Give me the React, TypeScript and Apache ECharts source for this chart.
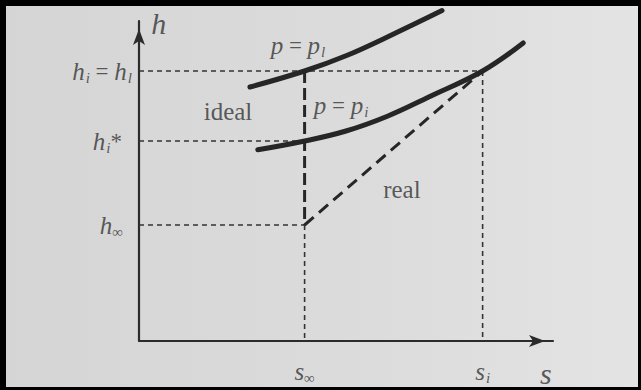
import { useEffect, useRef } from "react";
import * as echarts from "echarts";

// State points of the h–s diagram (arbitrary units)
const S_INF = 4.0;
const S_I = 8.3;
const H_L = 6.75; // h_i = h_l
const H_I_STAR = 5.0;
const H_INF = 2.9;

// Isobar p = p_l
const isobarLS = [2.68, 4.0, 5.0, 6.0, 7.32];
const isobarLH = [6.35, 6.75, 7.13, 7.6, 8.26];
// Isobar p = p_i
const isobarIS = [2.87, 4.0, 5.0, 6.0, 7.0, 8.3, 9.28];
const isobarIH = [4.78, 5.0, 5.25, 5.62, 6.1, 6.75, 7.45];

// Labels on the h axis
const hTickValues = [H_L, H_I_STAR, H_INF];
const hTickLabels = [
  "{it|h}{sub|i}{op| = }{it|h}{sub|l}",
  "{it|h}{sub|i}{op|*}",
  "{it|h}{subinf|∞}",
];
const hTickGaps = [7, 17, 16];

// Labels on the s axis
const sTickValues = [S_INF, S_I];
const sTickLabels = ["{it|s}{subinf|∞}", "{it|s}{sub|i}"];

// Free text: [s, h, text]
const freeTexts: [number, number, string][] = [
  [2.15, 5.75, "{rm|ideal}"],
  [6.35, 3.78, "{rm|real}"],
  [3.84, 7.38, "{it|p}{op| = }{it|p}{sub|l}"],
  [4.88, 5.9, "{it|p}{op| = }{it|p}{sub|i}"],
  [0.48, 7.93, "{big|h}"],
  [9.83, -0.8, "{big|s}"],
];

const SERIF = "Liberation Serif";
const INK = "#262626";
const TEXT = "#343434";

const rich = {
  it: { fontFamily: SERIF, fontStyle: "italic", fontSize: 25, color: TEXT, lineHeight: 28 },
  op: { fontFamily: SERIF, fontSize: 23, color: TEXT, lineHeight: 28 },
  rm: { fontFamily: SERIF, fontSize: 25, color: TEXT, lineHeight: 28 },
  big: { fontFamily: SERIF, fontStyle: "italic", fontSize: 30, color: TEXT, lineHeight: 30 },
  sub: {
    fontFamily: SERIF,
    fontStyle: "italic",
    fontSize: 15,
    color: TEXT,
    verticalAlign: "bottom",
    lineHeight: 14,
    padding: [11, 0, 0, 1],
  },
  subinf: {
    fontFamily: SERIF,
    fontSize: 15,
    color: TEXT,
    verticalAlign: "bottom",
    lineHeight: 14,
    padding: [11, 0, 0, 0],
  },
};

const zip = (xs: number[], ys: number[]) => xs.map((x, i) => [x, ys[i]]);

// Thin dashed guide lines
const guides: number[][][] = [
  [[0, H_L], [S_I, H_L]],
  [[0, H_I_STAR], [S_INF, H_I_STAR]],
  [[0, H_INF], [S_INF, H_INF]],
  [[S_INF, H_INF], [S_INF, 0]],
  [[S_I, H_L], [S_I, 0]],
];

const textLabel = (formatter: string, extra: object) => ({
  show: true,
  fontFamily: SERIF,
  color: TEXT,
  formatter,
  rich,
  ...extra,
});

export default function App() {
  const ref = useRef<HTMLDivElement>(null);

  useEffect(() => {
    if (!ref.current) return;
    const chart = echarts.init(ref.current, undefined, { renderer: "svg" });

    const curveStyle = { color: INK, width: 5, cap: "round" };

    const series: any[] = [
      ...guides.map((seg) => ({
        type: "line",
        data: seg,
        symbol: "none",
        silent: true,
        lineStyle: { color: "#333", width: 1.6, type: [5, 4] },
        z: 2,
      })),
      {
        type: "line",
        name: "p_l",
        data: zip(isobarLS, isobarLH),
        smooth: 0.4,
        symbol: "none",
        clip: false,
        lineStyle: curveStyle,
        z: 4,
      },
      {
        type: "line",
        name: "p_i",
        data: zip(isobarIS, isobarIH),
        smooth: 0.4,
        symbol: "none",
        clip: false,
        lineStyle: curveStyle,
        z: 4,
      },
      {
        type: "line",
        name: "ideal",
        data: [
          [S_INF, H_L],
          [S_INF, H_INF],
        ],
        symbol: "none",
        lineStyle: { color: INK, width: 3, type: [12, 5] },
        z: 3,
      },
      {
        type: "line",
        name: "real",
        data: [
          [S_INF, H_INF],
          [S_I, H_L],
        ],
        symbol: "none",
        lineStyle: { color: INK, width: 3, type: [12, 7] },
        z: 3,
      },
      {
        type: "scatter",
        symbolSize: 0,
        silent: true,
        clip: false,
        data: [
          ...hTickValues.map((v, i) => ({
            value: [0, v],
            label: textLabel(hTickLabels[i], { position: "left", distance: hTickGaps[i] }),
          })),
          ...sTickValues.map((v, i) => ({
            value: [v, 0],
            label: textLabel(sTickLabels[i], { position: "bottom", distance: 16 }),
          })),
          ...freeTexts.map(([x, y, t]) => ({
            value: [x, y],
            label: textLabel(t, { position: "inside" }),
          })),
        ],
        z: 5,
      },
    ];

    const axisLine = (symbolSize: number[]) => ({
      show: true,
      symbol: ["none", "arrow"],
      symbolSize,
      symbolOffset: [0, -8],
      lineStyle: { color: "#2b2b2b", width: 2.2 },
    });

    chart.setOption({
      animation: false,
      backgroundColor: "transparent",
      graphic: [
        {
          type: "rect",
          z: -10,
          silent: true,
          shape: { x: 0, y: 0, width: 641, height: 390 },
          style: {
            fill: new echarts.graphic.LinearGradient(0, 0, 1, 0, [
              { offset: 0, color: "#d5d5d5" },
              { offset: 0.6, color: "#dcdcdc" },
              { offset: 1, color: "#e4e4e4" },
            ]),
          },
        },
        { type: "rect", z: -9, silent: true, shape: { x: 0, y: 0, width: 641, height: 6 }, style: { fill: "#000" } },
        { type: "rect", z: -9, silent: true, shape: { x: 0, y: 0, width: 6, height: 390 }, style: { fill: "#000" } },
        { type: "rect", z: -9, silent: true, shape: { x: 638, y: 0, width: 3, height: 390 }, style: { fill: "#000" } },
        { type: "rect", z: -9, silent: true, shape: { x: 0, y: 387, width: 641, height: 3 }, style: { fill: "#000" } },
      ],
      grid: { left: 139, right: 88, top: 21, bottom: 49, containLabel: false },
      xAxis: {
        type: "value",
        min: 0,
        max: 10,
        axisLine: axisLine([9, 16]),
        axisTick: { show: false },
        axisLabel: { show: false },
        splitLine: { show: false },
      },
      yAxis: {
        type: "value",
        min: 0,
        max: 8,
        axisLine: axisLine([9, 16]),
        axisTick: { show: false },
        axisLabel: { show: false },
        splitLine: { show: false },
      },
      series,
    });

    return () => chart.dispose();
  }, []);

  return (
    <div
      ref={ref}
      style={{ position: "absolute", left: 0, top: 0, width: 641, height: 390 }}
    />
  );
}
